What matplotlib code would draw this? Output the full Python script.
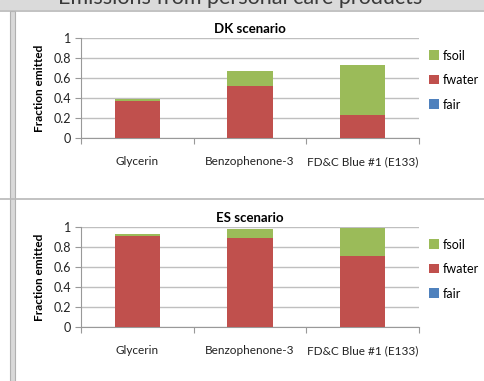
import numpy as np
import matplotlib
matplotlib.use("Agg")
import matplotlib.pyplot as plt
from matplotlib.patches import Rectangle
from matplotlib.lines import Line2D

plt.rcParams["font.family"] = ["Lato", "DejaVu Sans"]

# data
categories = ["Glycerin", "Benzophenone-3", "FD&C Blue #1 (E133)"]
dk_fair = [0.0, 0.0, 0.0]
dk_fwater = [0.375, 0.523, 0.23]
dk_fsoil = [0.012, 0.154, 0.503]
es_fair = [0.0, 0.0, 0.0]
es_fwater = [0.916, 0.896, 0.715]
es_fsoil = [0.012, 0.084, 0.275]
yticks = [0, 0.2, 0.4, 0.6, 0.8, 1]

C_AIR = "#4F81BD"
C_WATER = "#C0504D"
C_SOIL = "#9BBB59"
GRID = "#BFBFBF"

W, H = 484, 381
fig = plt.figure(figsize=(W / 100, H / 100), dpi=100)
fig.patch.set_facecolor("white")


def box(x0, y0, x1, y1):
    # pixel box (top-left origin) -> figure fraction rect
    return [x0 / W, 1 - y1 / H, (x1 - x0) / W, (y1 - y0) / H]


# window chrome around the charts (title of the slide is cut off at the top)
band = fig.add_axes(box(0, 0, W, 10))
band.set_xlim(0, W)
band.set_ylim(10, 0)
band.axis("off")
band.add_patch(Rectangle((0, 0), W, 10, color="#DADADA"))
band.text(422, 3.5, "Emissions from personal care products", ha="right", va="baseline",
          fontsize=15.5, color="#3A3A3A", clip_on=True)
fig.add_artist(Line2D([0, 1], [1 - 10.5 / H] * 2, color="#B8B8B8", lw=1.2))
fig.add_artist(Rectangle((10 / W, 0), 5 / W, 1 - 10.5 / H, facecolor="#D9D9D9",
                         edgecolor="#B0B0B0", lw=0.8))
fig.add_artist(Line2D([0, 1], [1 - 198.5 / H] * 2, color="#B8B8B8", lw=1.2))


def draw(rect, title, fair, fwater, fsoil):
    ax = fig.add_axes(rect)
    x = np.arange(len(categories))
    w = 0.4
    ax.bar(x, fair, w, color=C_AIR, label="fair", zorder=3)
    ax.bar(x, fwater, w, bottom=fair, color=C_WATER, label="fwater", zorder=3)
    ax.bar(x, fsoil, w, bottom=np.add(fair, fwater), color=C_SOIL, label="fsoil", zorder=3)
    ax.set_xlim(-0.5, len(categories) - 0.5)
    ax.set_ylim(0, 1)
    ax.set_yticks(yticks)
    ax.set_yticklabels([f"{v:g}" for v in yticks], fontsize=9, color="#222222")
    ax.yaxis.grid(True, color=GRID, lw=1, zorder=0)
    ax.set_xticks(np.arange(-0.5, len(categories), 1.0))
    ax.set_xticklabels([])
    ax.set_xticks(x, minor=True)
    ax.set_xticklabels(categories, minor=True, fontsize=8.5, color="#222222")
    ax.tick_params(axis="x", which="minor", length=0, pad=13)
    ax.tick_params(axis="x", which="major", length=4, color="#999999")
    ax.tick_params(axis="y", length=4, color="#999999", pad=3)
    for s in ["top", "right"]:
        ax.spines[s].set_visible(False)
    for s in ["left", "bottom"]:
        ax.spines[s].set_color("#999999")
    ax.set_title(title, fontsize=9.5, fontweight="bold", pad=4)
    ax.set_ylabel("Fraction emitted", fontsize=8.5, fontweight="bold", labelpad=6)
    h, l = ax.get_legend_handles_labels()
    ax.legend(h[::-1], l[::-1], loc="upper left", bbox_to_anchor=(0.995, 1.0),
              frameon=False, fontsize=9, handlelength=0.8, handleheight=0.8,
              handletextpad=0.3, labelspacing=1.0)
    return ax


draw(box(81, 38.3, 419, 138), "DK scenario", dk_fair, dk_fwater, dk_fsoil)
draw(box(81, 227.3, 419, 327), "ES scenario", es_fair, es_fwater, es_fsoil)

fig.savefig("out.png", dpi=100)
